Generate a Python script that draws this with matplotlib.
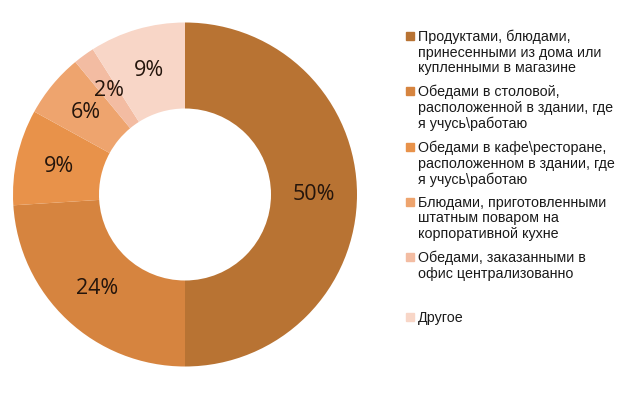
import matplotlib.pyplot as plt
from matplotlib.patches import Rectangle

# данные диаграммы
labels = [
    "Продуктами, блюдами,\nпринесенными из дома или\nкупленными в магазине",
    "Обедами в столовой,\nрасположенной в здании, где\nя учусь\\работаю",
    "Обедами в кафе\\ресторане,\nрасположенном в здании, где\nя учусь\\работаю",
    "Блюдами, приготовленными\nштатным поваром на\nкорпоративной кухне",
    "Обедами, заказанными в\nофис централизованно",
    "Другое",
]
values = [50, 24, 9, 6, 2, 9]
colors = ["#B87333", "#D6843F", "#E8924A", "#EEA46E", "#F3BCA2", "#F8D6C7"]

W, H = 635, 393
fig = plt.figure(figsize=(W / 100, H / 100), dpi=100)

# кольцо: центр (185, 194), радиус ~172 px
cx, cy, r = 185, 194.5, 172
ax = fig.add_axes([(cx - r) / W, 1 - (cy + r) / H, 2 * r / W, 2 * r / H])
wedges, texts, autotexts = ax.pie(
    values, colors=colors, startangle=90, counterclock=False,
    wedgeprops=dict(width=0.5, edgecolor="none"),
    autopct="%d%%", pctdistance=0.75,
    textprops=dict(fontsize=15.5, family="Open Sans", color="#24150c"),
)
ax.set_xlim(-1, 1)
ax.set_ylim(-1, 1)
ax.set_aspect("equal")
ax.axis("off")

# легенда вручную: маркер у первой строки
leg_base = [41, 96, 152, 207, 262, 322]
for lab, col, yb in zip(labels, colors, leg_base):
    fig.patches.append(Rectangle((406 / W, 1 - (yb - 1) / H), 8 / W, 8 / H,
                                 transform=fig.transFigure, color=col))
    fig.text(418 / W, 1 - (yb - 11) / H, lab, fontsize=10.3, family="Liberation Sans",
             color="#1a1a1a", va="top", ha="left", linespacing=1.12)

fig.savefig("out.png", dpi=100)
